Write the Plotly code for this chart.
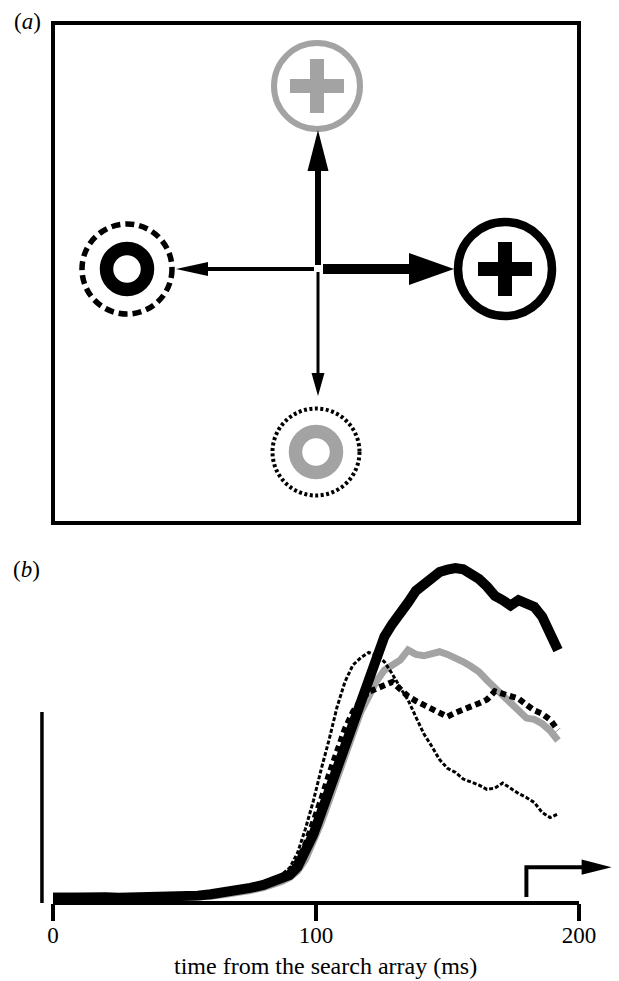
import plotly.graph_objects as go

# ---------------------------------------------------------------------------
# panel (b): responses aligned on search array onset
# ---------------------------------------------------------------------------
time_ms = [0, 5, 10, 15, 20, 25, 30, 35, 40, 45, 50, 55, 60, 65, 70, 75, 80, 85,
           87, 90, 93, 96, 99, 102, 105, 108, 111, 114, 117, 120, 123, 126, 129,
           132, 135, 138, 141, 144, 147, 150, 153, 156, 159, 162, 165, 168, 171,
           174, 177, 180, 183, 186, 189, 192]

# target (black plus in black circle) - thick black
resp_target = [0.016, 0.018, 0.020, 0.019, 0.017, 0.016, 0.016, 0.017, 0.017, 0.018,
               0.020, 0.022, 0.026, 0.031, 0.038, 0.045, 0.054, 0.066,
               0.072, 0.084, 0.108, 0.150, 0.205, 0.270, 0.336, 0.410, 0.480, 0.545,
               0.612, 0.680, 0.742, 0.795, 0.833, 0.862, 0.897, 0.932, 0.950, 0.975,
               0.988, 0.995, 1.000, 0.996, 0.985, 0.967, 0.945, 0.917, 0.904, 0.888,
               0.904, 0.893, 0.884, 0.855, 0.805, 0.755]

# grey plus - thick grey
resp_grey_plus = [0.022, 0.022, 0.020, 0.018, 0.016, 0.014, 0.013, 0.013, 0.013, 0.014,
                  0.015, 0.017, 0.020, 0.025, 0.030, 0.037, 0.046, 0.058,
                  0.064, 0.076, 0.095, 0.130, 0.180, 0.240, 0.305, 0.372, 0.438, 0.510,
                  0.570, 0.615, 0.662, 0.695, 0.712, 0.725, 0.755, 0.742, 0.738, 0.742,
                  0.750, 0.742, 0.732, 0.720, 0.706, 0.690, 0.665, 0.642, 0.620, 0.592,
                  0.568, 0.552, 0.548, 0.535, 0.515, 0.485]

# black ring - dotted
resp_black_ring = [0.018, 0.017, 0.016, 0.016, 0.015, 0.015, 0.016, 0.017, 0.018, 0.019,
                   0.021, 0.024, 0.028, 0.034, 0.041, 0.049, 0.059, 0.072,
                   0.079, 0.095, 0.125, 0.175, 0.240, 0.310, 0.385, 0.455, 0.520, 0.570,
                   0.605, 0.630, 0.642, 0.650, 0.660, 0.640, 0.617, 0.603, 0.590, 0.580,
                   0.567, 0.556, 0.568, 0.580, 0.587, 0.596, 0.607, 0.632, 0.626, 0.619,
                   0.610, 0.592, 0.575, 0.565, 0.547, 0.516]

# grey ring - thin dotted
resp_grey_ring = [0.015, 0.016, 0.017, 0.017, 0.016, 0.015, 0.015, 0.016, 0.017, 0.019,
                  0.021, 0.024, 0.028, 0.033, 0.040, 0.048, 0.058, 0.075,
                  0.085, 0.105, 0.150, 0.222, 0.305, 0.400, 0.488, 0.585, 0.660, 0.710,
                  0.732, 0.748, 0.740, 0.720, 0.684, 0.643, 0.606, 0.555, 0.505, 0.468,
                  0.428, 0.402, 0.390, 0.370, 0.362, 0.352, 0.339, 0.343, 0.358, 0.342,
                  0.327, 0.315, 0.300, 0.270, 0.255, 0.266]

saccade_ms = 180        # step arrow (saccade onset)
scale_bar_height = 0.57  # unlabelled vertical scale bar

# ---------------------------------------------------------------------------
# panel (a): search array (units = px of the drawing)
# ---------------------------------------------------------------------------
BLACK = 'black'
GREY = '#a3a3a3'
SERIF = 'Times New Roman, Liberation Serif, serif'

# stimulus: centre, outer circle, inner symbol
stimuli = [
    dict(cx=-1, cy=183, ring_r=43, ring_w=6, ring_col=GREY, ring_dash='solid',
         symbol='plus', sym_col=GREY),
    dict(cx=187, cy=0, ring_r=47, ring_w=8.5, ring_col=BLACK, ring_dash='solid',
         symbol='plus', sym_col=BLACK),
    dict(cx=-191, cy=0, ring_r=45, ring_w=5.5, ring_col=BLACK, ring_dash='9px,5px',
         symbol='ring', sym_col=BLACK),
    dict(cx=-2, cy=-183, ring_r=43.5, ring_w=4, ring_col=BLACK, ring_dash='3px,2.5px',
         symbol='ring', sym_col=GREY),
]

# arrows from fixation: direction, start, tip, head length, head half width, shaft width
arrows = [
    dict(dx=0, dy=1, start=4, tip=139, head=41, half=10.5, width=6),
    dict(dx=1, dy=0, start=5, tip=136, head=45, half=16, width=10),
    dict(dx=-1, dy=0, start=4, tip=142, head=32, half=7, width=4),
    dict(dx=0, dy=-1, start=3, tip=127, head=23, half=6.5, width=3),
]

fig = go.Figure()

# traces, grey underneath
fig.add_trace(go.Scatter(x=time_ms, y=resp_grey_plus, mode='lines',
                         line=dict(color=GREY, width=7), showlegend=False))
fig.add_trace(go.Scatter(x=time_ms, y=resp_target, mode='lines',
                         line=dict(color=BLACK, width=10), showlegend=False))
fig.add_trace(go.Scatter(x=time_ms, y=resp_black_ring, mode='lines',
                         line=dict(color=BLACK, width=6, dash='6px,4px'),
                         showlegend=False))
fig.add_trace(go.Scatter(x=time_ms, y=resp_grey_ring, mode='lines',
                         line=dict(color=BLACK, width=3, dash='4px,2px'),
                         showlegend=False))

shapes = []

# panel (a) stimuli
for s in stimuli:
    r = s['ring_r']
    shapes.append(dict(type='circle', xref='x2', yref='y2',
                       x0=s['cx'] - r, x1=s['cx'] + r, y0=s['cy'] - r, y1=s['cy'] + r,
                       line=dict(color=s['ring_col'], width=s['ring_w'], dash=s['ring_dash'])))
    if s['symbol'] == 'plus':
        arm = 27
        shapes.append(dict(type='line', xref='x2', yref='y2',
                           x0=s['cx'] - arm, x1=s['cx'] + arm, y0=s['cy'], y1=s['cy'],
                           line=dict(color=s['sym_col'], width=14)))
        shapes.append(dict(type='line', xref='x2', yref='y2',
                           x0=s['cx'], x1=s['cx'], y0=s['cy'] - arm, y1=s['cy'] + arm,
                           line=dict(color=s['sym_col'], width=14)))
    else:
        ir = 20.5
        shapes.append(dict(type='circle', xref='x2', yref='y2',
                           x0=s['cx'] - ir, x1=s['cx'] + ir, y0=s['cy'] - ir, y1=s['cy'] + ir,
                           line=dict(color=s['sym_col'], width=13.5)))

# panel (a) arrows
for a in arrows:
    dx, dy = a['dx'], a['dy']
    base = a['tip'] - a['head']
    shapes.append(dict(type='line', xref='x2', yref='y2',
                       x0=dx * a['start'], y0=dy * a['start'],
                       x1=dx * (base + 1), y1=dy * (base + 1),
                       line=dict(color=BLACK, width=a['width'])))
    px, py = -dy, dx   # perpendicular
    pts = [(dx * a['tip'], dy * a['tip']),
           (dx * base + px * a['half'], dy * base + py * a['half']),
           (dx * base - px * a['half'], dy * base - py * a['half'])]
    path = 'M {} {} L {} {} L {} {} Z'.format(*[v for p in pts for v in p])
    shapes.append(dict(type='path', xref='x2', yref='y2', path=path,
                       fillcolor=BLACK, line=dict(width=0)))

# panel (b) time axis line 0-200 ms
shapes.append(dict(type='line', xref='x', yref='y domain', x0=0, x1=200, y0=0, y1=0,
                   line=dict(color=BLACK, width=4)))
# scale bar
shapes.append(dict(type='line', xref='x', yref='y', x0=-4.2, x1=-4.2, y0=0,
                   y1=scale_bar_height, line=dict(color=BLACK, width=3.5)))
# saccade step arrow
step_top = 0.107
shapes.append(dict(type='path', xref='x', yref='y',
                   path=f'M {saccade_ms} 0.018 L {saccade_ms} {step_top} L 201.5 {step_top}',
                   line=dict(color=BLACK, width=4)))
shapes.append(dict(type='path', xref='x', yref='y',
                   path=f'M 201 {step_top - 0.023} L 212.4 {step_top} L 201 {step_top + 0.023} Z',
                   fillcolor=BLACK, line=dict(width=0)))

W, H = 619, 981

fig.update_layout(
    width=W, height=H,
    margin=dict(l=0, r=0, t=0, b=0),
    plot_bgcolor='white', paper_bgcolor='white',
    font=dict(family=SERIF, color=BLACK),
    showlegend=False,
    shapes=shapes,
    # panel (b)
    xaxis=dict(domain=[39.85 / W, 618.45 / W], range=[-5, 215], anchor='y',
               showline=False, showgrid=False, zeroline=False,
               tickvals=[0, 100, 200], ticks='outside', ticklen=17, tickwidth=4,
               tickcolor=BLACK, ticklabelstandoff=-6,
               tickfont=dict(family=SERIF, size=23, color=BLACK)),
    yaxis=dict(domain=[1 - 903 / H, 1 - 548 / H], range=[0, 355 / 335], anchor='x',
               visible=False),
    # panel (a)
    xaxis2=dict(domain=[55 / W, 577 / W], range=[-263, 259], anchor='y2',
                showline=True, mirror=True, linewidth=4, linecolor=BLACK,
                showgrid=False, zeroline=False, showticklabels=False, ticks=''),
    yaxis2=dict(domain=[1 - 521 / H, 1 - 25 / H], range=[-252, 244], anchor='x2',
                showline=True, mirror=True, linewidth=4, linecolor=BLACK,
                showgrid=False, zeroline=False, showticklabels=False, ticks=''),
    annotations=[
        dict(text='(<i>a</i>)', x=27 / W, y=1 - 22 / H, xref='paper', yref='paper',
             xanchor='center', yanchor='middle', showarrow=False, font=dict(size=23)),
        dict(text='(<i>b</i>)', x=26 / W, y=1 - 569 / H, xref='paper', yref='paper',
             xanchor='center', yanchor='middle', showarrow=False, font=dict(size=23)),
        dict(text='time from the search array (ms)', x=325 / W, y=0,
             xref='paper', yref='paper', xanchor='center', yanchor='bottom',
             showarrow=False, font=dict(size=24)),
    ],
)

# drop the default page margin so the 619x981 figure fills the window exactly
fig.write_html('out.html', config={'displayModeBar': False},
               post_script="document.body.style.margin='0';")
